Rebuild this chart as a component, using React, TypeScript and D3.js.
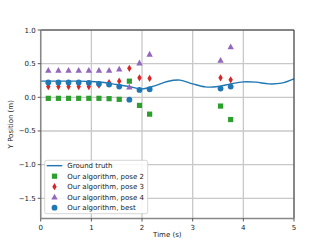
import * as d3 from "d3";
import React from "react";

// time samples for estimates
const times = [0.15, 0.35, 0.55, 0.75, 0.95, 1.15, 1.35, 1.55, 1.75, 1.95, 2.15, 3.55, 3.75];
const pose2 = [-0.015, -0.015, -0.015, -0.015, -0.015, -0.015, -0.02, -0.03, 0.24, -0.12, -0.25, -0.13, -0.33];
const pose3 = [0.16, 0.16, 0.16, 0.16, 0.16, 0.18, 0.22, 0.24, 0.43, 0.29, 0.28, 0.29, 0.26];
const pose4 = [0.4, 0.4, 0.4, 0.4, 0.4, 0.4, 0.4, 0.42, 0.15, 0.51, 0.64, 0.55, 0.75];
const best = [0.22, 0.22, 0.22, 0.22, 0.215, 0.2, 0.19, 0.16, -0.035, 0.11, 0.12, 0.13, 0.16];

// ground truth
const gtTimes = [0, 0.25, 0.5, 0.75, 1.0, 1.25, 1.5, 1.75, 2.0, 2.25, 2.5, 2.75, 3.0, 3.25, 3.5, 3.75, 4.0, 4.25, 4.5, 4.75, 5.0];
const gtY = [0.24, 0.24, 0.24, 0.24, 0.235, 0.22, 0.19, 0.16, 0.125, 0.17, 0.235, 0.255, 0.2, 0.155, 0.16, 0.2, 0.23, 0.225, 0.2, 0.21, 0.275];

const xTicks = [0, 1, 2, 3, 4, 5];
const yTicks = [-1.5, -1.0, -0.5, 0.0, 0.5, 1.0];

const legendLabels = [
  "Ground truth",
  "Our algorithm, pose 2",
  "Our algorithm, pose 3",
  "Our algorithm, pose 4",
  "Our algorithm, best",
];

const blue = "#1f77b4";
const green = "#2ca02c";
const red = "#d62728";
const purple = "#9467bd";

function Marker({ kind, x, y }: { kind: string; x: number; y: number }) {
  if (kind === "square")
    return <rect x={x - 2.6} y={y - 2.6} width={5.2} height={5.2} fill={green} />;
  if (kind === "diamond")
    return <path d={`M${x},${y - 3.6}L${x + 2.2},${y}L${x},${y + 3.6}L${x - 2.2},${y}Z`} fill={red} />;
  if (kind === "triangle")
    return <path d={`M${x},${y - 3.4}L${x + 3.2},${y + 2.4}L${x - 3.2},${y + 2.4}Z`} fill={purple} />;
  return <circle cx={x} cy={y} r={2.9} fill={blue} />;
}

export default function App() {
  const width = 327;
  const height = 245;
  const margin = { top: 30, right: 33, bottom: 26.5, left: 40.7 };

  const x = d3.scaleLinear().domain([0, 5]).range([margin.left, width - margin.right]);
  const y = d3.scaleLinear().domain([-1.8, 1.0]).range([height - margin.bottom, margin.top]);

  const line = d3
    .line<number>()
    .x((_, i) => x(gtTimes[i]))
    .y((d) => y(d))
    .curve(d3.curveCatmullRom);

  const series = [
    { kind: "square", vals: pose2 },
    { kind: "diamond", vals: pose3 },
    { kind: "triangle", vals: pose4 },
    { kind: "circle", vals: best },
  ];

  const x0 = x(0), x1 = x(5), y0 = y(-1.8), y1 = y(1.0);
  const font = "DejaVu Sans, sans-serif";

  const lgX = 44.7, lgY = 160.3, rowH = 10.5;

  return (
    <svg width={width} height={height} style={{ position: "absolute", left: 0, top: 0 }} fontFamily={font}>
      <rect width={width} height={height} fill="white" />
      {/* grid */}
      {xTicks.map((t) => (
        <line key={"gx" + t} x1={x(t)} x2={x(t)} y1={y0} y2={y1} stroke="#c8c8c8" strokeWidth={1.3} />
      ))}
      {yTicks.map((t) => (
        <line key={"gy" + t} x1={x0} x2={x1} y1={y(t)} y2={y(t)} stroke="#c8c8c8" strokeWidth={1.3} />
      ))}
      {/* ground truth */}
      <path d={line(gtY) || ""} fill="none" stroke={blue} strokeWidth={1.4} />
      {/* markers */}
      {series.map((s) =>
        s.vals.map((v, i) => <Marker key={s.kind + i} kind={s.kind} x={x(times[i])} y={y(v)} />)
      )}
      {/* spines */}
      <line x1={x0} x2={x1} y1={y1} y2={y1} stroke="#222" strokeWidth={0.9} />
      <line x1={x1} x2={x1} y1={y1} y2={y0} stroke="#222" strokeWidth={0.9} />
      <line x1={x0} x2={x0} y1={y1} y2={y0} stroke="#888" strokeWidth={1.5} />
      <line x1={x0} x2={x1} y1={y0} y2={y0} stroke="#888" strokeWidth={1.5} />
      {/* ticks */}
      {xTicks.map((t) => (
        <g key={"tx" + t}>
          <line x1={x(t)} x2={x(t)} y1={y0} y2={y0 + 3} stroke="#333" strokeWidth={0.8} />
          <text x={x(t)} y={y0 + 11} fontSize={7} textAnchor="middle" fill="#222">{t}</text>
        </g>
      ))}
      {yTicks.map((t) => (
        <g key={"ty" + t}>
          <line x1={x0 - 3} x2={x0} y1={y(t)} y2={y(t)} stroke="#333" strokeWidth={0.8} />
          <text x={x0 - 5} y={y(t) + 2.5} fontSize={7} textAnchor="end" fill="#222">
            {t.toFixed(1).replace("-", "\u2212")}
          </text>
        </g>
      ))}
      <text x={(x0 + x1) / 2} y={237} fontSize={7} textAnchor="middle" fill="#222">Time (s)</text>
      <text transform={`translate(13,${(y0 + y1) / 2}) rotate(-90)`} fontSize={7} textAnchor="middle" fill="#222">
        Y Position (m)
      </text>
      {/* legend */}
      <rect x={lgX} y={lgY} width={103} height={53.4} rx={2} fill="white" fillOpacity={0.85} stroke="#cccccc" strokeWidth={0.8} />
      {legendLabels.map((lab, i) => {
        const ry = lgY + 5.4 + i * rowH;
        return (
          <g key={lab}>
            {i === 0 ? (
              <line x1={lgX + 2} x2={lgX + 17.6} y1={ry} y2={ry} stroke={blue} strokeWidth={1.4} />
            ) : (
              <Marker kind={series[i - 1].kind} x={lgX + 9.8} y={ry} />
            )}
            <text x={lgX + 22.6} y={ry + 2.5} fontSize={7} fill="#222">{lab}</text>
          </g>
        );
      })}
    </svg>
  );
}
